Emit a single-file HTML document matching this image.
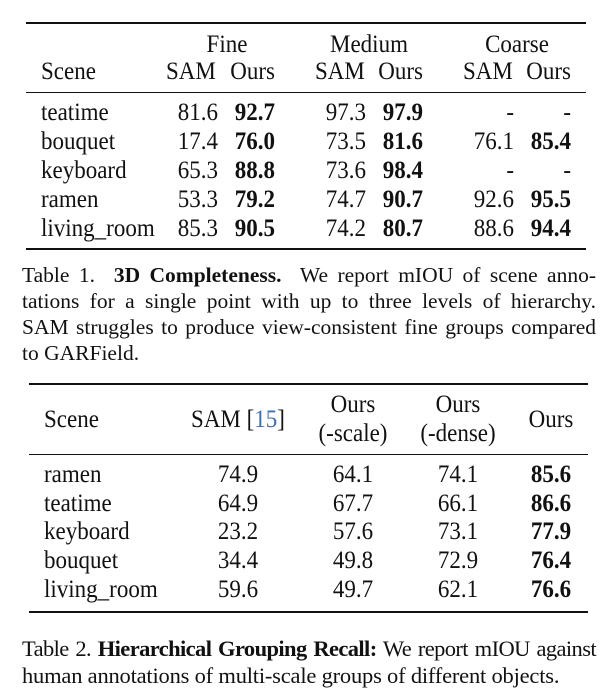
<!DOCTYPE html>
<html><head><meta charset="utf-8"><style>
html,body{margin:0;padding:0;background:#fff;}
body{width:611px;height:700px;position:relative;overflow:hidden;font-family:"Liberation Serif",serif;color:#111;}
.t{position:absolute;font-size:23px;line-height:23px;white-space:nowrap;transform:scaleY(1.08);transform-origin:0 80%;}
.r{text-align:right;transform-origin:100% 80%;}
.c{text-align:center;width:200px;transform-origin:50% 80%;}
b{font-weight:bold;}
.rule{position:absolute;background:#111;}
.cap{position:absolute;left:22px;width:574px;font-size:21.5px;line-height:26px;white-space:nowrap;}
.j{text-align:justify;text-align-last:justify;white-space:normal;height:26px;overflow:visible;}
</style></head><body>
<!-- Table 1 -->
<div class="rule" style="left:26px;width:560px;top:22px;height:2px"></div>
<div class="rule" style="left:26px;width:560px;top:92px;height:1.3px"></div>
<div class="rule" style="left:26px;width:560px;top:248px;height:2px"></div>

<div class="t c" style="left:127px;top:33px">Fine</div>
<div class="t c" style="left:269px;top:33px">Medium</div>
<div class="t c" style="left:417px;top:33px">Coarse</div>
<div class="t" style="left:41px;top:60px">Scene</div>
<div class="t" style="left:166px;top:60px">SAM</div><div class="t r" style="right:336px;top:60px">Ours</div>
<div class="t" style="left:315px;top:60px">SAM</div><div class="t r" style="right:188px;top:60px">Ours</div>
<div class="t" style="left:463px;top:60px">SAM</div><div class="t r" style="right:40px;top:60px">Ours</div>

<div class="t" style="left:41px;top:101px">teatime</div>
<div class="t r" style="right:393px;top:101px">81.6</div><div class="t r" style="right:336px;top:101px"><b>92.7</b></div>
<div class="t r" style="right:245px;top:101px">97.3</div><div class="t r" style="right:188px;top:101px"><b>97.9</b></div>
<div class="t r" style="right:97px;top:101px">-</div><div class="t r" style="right:40px;top:101px">-</div>

<div class="t" style="left:41px;top:130px">bouquet</div>
<div class="t r" style="right:393px;top:130px">17.4</div><div class="t r" style="right:336px;top:130px"><b>76.0</b></div>
<div class="t r" style="right:245px;top:130px">73.5</div><div class="t r" style="right:188px;top:130px"><b>81.6</b></div>
<div class="t r" style="right:97px;top:130px">76.1</div><div class="t r" style="right:40px;top:130px"><b>85.4</b></div>

<div class="t" style="left:41px;top:159px">keyboard</div>
<div class="t r" style="right:393px;top:159px">65.3</div><div class="t r" style="right:336px;top:159px"><b>88.8</b></div>
<div class="t r" style="right:245px;top:159px">73.6</div><div class="t r" style="right:188px;top:159px"><b>98.4</b></div>
<div class="t r" style="right:97px;top:159px">-</div><div class="t r" style="right:40px;top:159px">-</div>

<div class="t" style="left:41px;top:188px">ramen</div>
<div class="t r" style="right:393px;top:188px">53.3</div><div class="t r" style="right:336px;top:188px"><b>79.2</b></div>
<div class="t r" style="right:245px;top:188px">74.7</div><div class="t r" style="right:188px;top:188px"><b>90.7</b></div>
<div class="t r" style="right:97px;top:188px">92.6</div><div class="t r" style="right:40px;top:188px"><b>95.5</b></div>

<div class="t" style="left:41px;top:217px">living_room</div>
<div class="t r" style="right:393px;top:217px">85.3</div><div class="t r" style="right:336px;top:217px"><b>90.5</b></div>
<div class="t r" style="right:245px;top:217px">74.2</div><div class="t r" style="right:188px;top:217px"><b>80.7</b></div>
<div class="t r" style="right:97px;top:217px">88.6</div><div class="t r" style="right:40px;top:217px"><b>94.4</b></div>

<div class="cap j" style="top:262px">Table 1.&nbsp; <b>3D Completeness.</b>&nbsp; We report mIOU of scene anno-</div>
<div class="cap j" style="top:288px">tations for a single point with up to three levels of hierarchy.</div>
<div class="cap j" style="top:314px">SAM struggles to produce view-consistent fine groups compared</div>
<div class="cap" style="top:340px">to GARField.</div>

<!-- Table 2 -->
<div class="rule" style="left:29px;width:559px;top:383px;height:2px"></div>
<div class="rule" style="left:29px;width:559px;top:454px;height:1.3px"></div>
<div class="rule" style="left:29px;width:559px;top:611px;height:2px"></div>

<div class="t" style="left:44px;top:408px">Scene</div>
<div class="t c" style="left:138px;top:408px">SAM [<span style="color:#3b6fb6">15</span>]</div>
<div class="t c" style="left:253px;top:393px">Ours</div>
<div class="t c" style="left:253px;top:422px">(-scale)</div>
<div class="t c" style="left:358px;top:393px">Ours</div>
<div class="t c" style="left:358px;top:422px">(-dense)</div>
<div class="t c" style="left:451px;top:408px">Ours</div>

<div class="t" style="left:44px;top:463px">ramen</div>
<div class="t c" style="left:138px;top:463px">74.9</div><div class="t c" style="left:253px;top:463px">64.1</div><div class="t c" style="left:358px;top:463px">74.1</div><div class="t c" style="left:451px;top:463px"><b>85.6</b></div>
<div class="t" style="left:44px;top:492px">teatime</div>
<div class="t c" style="left:138px;top:492px">64.9</div><div class="t c" style="left:253px;top:492px">67.7</div><div class="t c" style="left:358px;top:492px">66.1</div><div class="t c" style="left:451px;top:492px"><b>86.6</b></div>
<div class="t" style="left:44px;top:520px">keyboard</div>
<div class="t c" style="left:138px;top:520px">23.2</div><div class="t c" style="left:253px;top:520px">57.6</div><div class="t c" style="left:358px;top:520px">73.1</div><div class="t c" style="left:451px;top:520px"><b>77.9</b></div>
<div class="t" style="left:44px;top:549px">bouquet</div>
<div class="t c" style="left:138px;top:549px">34.4</div><div class="t c" style="left:253px;top:549px">49.8</div><div class="t c" style="left:358px;top:549px">72.9</div><div class="t c" style="left:451px;top:549px"><b>76.4</b></div>
<div class="t" style="left:44px;top:578px">living_room</div>
<div class="t c" style="left:138px;top:578px">59.6</div><div class="t c" style="left:253px;top:578px">49.7</div><div class="t c" style="left:358px;top:578px">62.1</div><div class="t c" style="left:451px;top:578px"><b>76.6</b></div>

<div class="cap j" style="top:635px;line-height:27px;font-size:22.5px;letter-spacing:-0.6px">Table 2. <b>Hierarchical Grouping Recall:</b> We report mIOU against</div>
<div class="cap" style="top:662px;line-height:27px;font-size:22.5px;letter-spacing:-0.2px">human annotations of multi-scale groups of different objects.</div>
</body></html>
